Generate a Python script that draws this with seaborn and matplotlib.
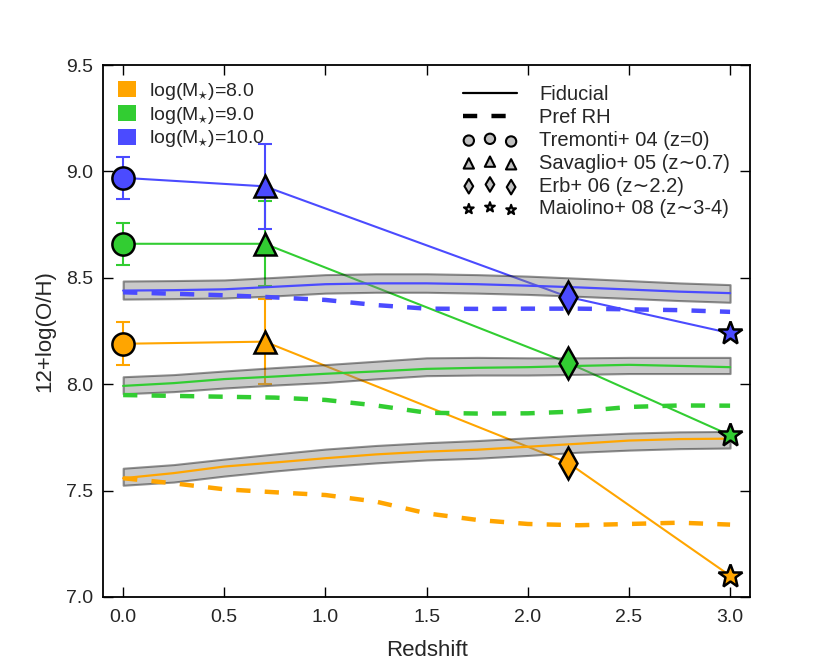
import numpy as np
import pandas as pd
import matplotlib
matplotlib.use("Agg")
import matplotlib.pyplot as plt
from matplotlib.patches import Patch
from matplotlib.lines import Line2D
import seaborn as sns

# ---------------- data ----------------
z_model = [0.0, 0.25, 0.5, 0.75, 1.0, 1.25, 1.5, 1.75, 2.0, 2.25, 2.5, 2.75, 3.0]

fid_m8 = [7.558, 7.582, 7.613, 7.632, 7.652, 7.670, 7.683, 7.692, 7.706, 7.720, 7.735, 7.742, 7.744]
up_m8 = [7.605, 7.622, 7.648, 7.672, 7.695, 7.712, 7.725, 7.735, 7.748, 7.760, 7.770, 7.776, 7.778]
lo_m8 = [7.525, 7.540, 7.568, 7.592, 7.613, 7.630, 7.644, 7.652, 7.665, 7.680, 7.690, 7.697, 7.700]
rh_m8 = [7.558, 7.534, 7.506, 7.492, 7.479, 7.448, 7.393, 7.362, 7.343, 7.337, 7.343, 7.349, 7.340]

fid_m9 = [7.992, 8.005, 8.024, 8.036, 8.049, 8.060, 8.072, 8.077, 8.080, 8.086, 8.091, 8.086, 8.080]
up_m9 = [8.035, 8.045, 8.062, 8.078, 8.092, 8.108, 8.124, 8.126, 8.124, 8.124, 8.126, 8.126, 8.126]
lo_m9 = [7.955, 7.965, 7.982, 7.996, 8.008, 8.025, 8.040, 8.043, 8.043, 8.046, 8.050, 8.050, 8.050]
rh_m9 = [7.949, 7.945, 7.941, 7.937, 7.926, 7.900, 7.866, 7.862, 7.863, 7.872, 7.893, 7.900, 7.899]

fid_m10 = [8.440, 8.442, 8.446, 8.458, 8.470, 8.474, 8.474, 8.470, 8.463, 8.455, 8.445, 8.435, 8.428]
up_m10 = [8.485, 8.487, 8.490, 8.502, 8.515, 8.519, 8.519, 8.515, 8.508, 8.498, 8.487, 8.476, 8.468]
lo_m10 = [8.400, 8.402, 8.405, 8.415, 8.428, 8.432, 8.432, 8.428, 8.422, 8.413, 8.403, 8.393, 8.385]
rh_m10 = [8.432, 8.425, 8.418, 8.408, 8.396, 8.372, 8.355, 8.354, 8.355, 8.355, 8.352, 8.348, 8.340]

z_obs = [0.0, 0.7, 2.2, 3.0]
obs_m8 = [8.19, 8.20, 7.63, 7.10]
obs_m9 = [8.66, 8.66, 8.10, 7.76]
obs_m10 = [8.97, 8.93, 8.41, 8.24]
obs_err = [0.1, 0.2, 0.0, 0.0]
obs_markers = ["o", "^", "d", "*"]

mass_labels = [r"log(M$_{\star}$)=8.0", r"log(M$_{\star}$)=9.0", r"log(M$_{\star}$)=10.0"]
obs_labels = ["Tremonti+ 04 (z=0)", "Savaglio+ 05 (z\u223c0.7)",
              "Erb+ 06 (z\u223c2.2)", "Maiolino+ 08 (z\u223c3-4)"]
xtick_labels = ["0.0", "0.5", "1.0", "1.5", "2.0", "2.5", "3.0"]
ytick_labels = ["7.0", "7.5", "8.0", "8.5", "9.0", "9.5"]
colors = ["#ffa500", "#32cd32", "#4b4bff"]

# ---------------- style ----------------
sns.set_style("ticks", {"xtick.direction": "in", "ytick.direction": "in"})
plt.rcParams["font.family"] = ["Liberation Sans", "DejaVu Sans"]
plt.rcParams["mathtext.fontset"] = "custom"
plt.rcParams["mathtext.rm"] = "Liberation Sans"
plt.rcParams["mathtext.it"] = "Liberation Sans:italic"

fig, ax = plt.subplots(figsize=(8.3, 6.64), dpi=100)
fig.subplots_adjust(left=0.124, right=0.904, bottom=0.101, top=0.902)

models = [(fid_m8, up_m8, lo_m8, rh_m8), (fid_m9, up_m9, lo_m9, rh_m9),
          (fid_m10, up_m10, lo_m10, rh_m10)]
obs = [obs_m8, obs_m9, obs_m10]

for c, (fid, up, lo, rh), ob in zip(colors, models, obs):
    # observations connecting lines + error bars (behind the band)
    sns.lineplot(x=z_obs, y=ob, color=c, lw=1.5, ax=ax, zorder=1)
    ax.errorbar(z_obs[:2], ob[:2], yerr=obs_err[:2], fmt="none", ecolor=c,
                elinewidth=1.5, capsize=5, capthick=1.5, zorder=1)
    # model band
    ax.fill_between(z_model, lo, up, facecolor="grey", edgecolor="k",
                    lw=1.5, alpha=0.42, zorder=2)
    # model lines
    sns.lineplot(x=z_model, y=fid, color=c, lw=1.6, ax=ax, zorder=3)
    sns.lineplot(x=z_model, y=rh, color=c, lw=3.2, ax=ax, zorder=3,
                 linestyle=(0, (3.2, 3.2)))
    # observation markers
    for zz, yy, mk in zip(z_obs, ob, obs_markers):
        ax.plot([zz], [yy], marker=mk, ms=16 if mk != "*" else 18, mfc=c,
                mec="k", mew=1.8, ls="none", zorder=5)

ax.set_xlim(-0.1, 3.1)
ax.set_ylim(7.0, 9.5)
ax.set_xticks([float(t) for t in xtick_labels])
ax.set_yticks([float(t) for t in ytick_labels])
ax.set_xticklabels(xtick_labels)
ax.set_yticklabels(ytick_labels)
ax.tick_params(which="both", direction="in", top=True, right=True,
               length=7, width=1, labelsize=14, pad=7, color="k")
ax.tick_params(axis="x", pad=9)
for sp in ax.spines.values():
    sp.set_linewidth(1.3)
    sp.set_color("k")
ax.set_xlabel("Redshift", fontsize=16, labelpad=10)
ax.set_ylabel("12+log(O/H)", fontsize=16, labelpad=8)

# legends
mass_handles = [Patch(facecolor=c, edgecolor="none") for c in colors]
leg1 = ax.legend(mass_handles, mass_labels, loc="upper left", frameon=False,
                 fontsize=14, handlelength=0.9, handleheight=0.9,
                 handletextpad=0.65, labelspacing=0.15, borderaxespad=0.4)
ax.add_artist(leg1)

line_handles = [Line2D([], [], color="k", lw=1.6),
                Line2D([], [], color="k", lw=3.2, linestyle=(0, (3.2, 3.2)))]
scat_handles = [ax.scatter([], [], marker=mk, s=55, c="#c0c0c0",
                           edgecolors="k", linewidths=1.5) for mk in obs_markers]
leg2 = ax.legend(line_handles + scat_handles, ["Fiducial", "Pref RH"] + obs_labels,
                 loc="upper right", frameon=False, fontsize=14.5,
                 handlelength=2.7, handletextpad=1.1, labelspacing=0.19,
                 scatterpoints=3, borderaxespad=0.6)

fig.savefig("out.png", dpi=100)
